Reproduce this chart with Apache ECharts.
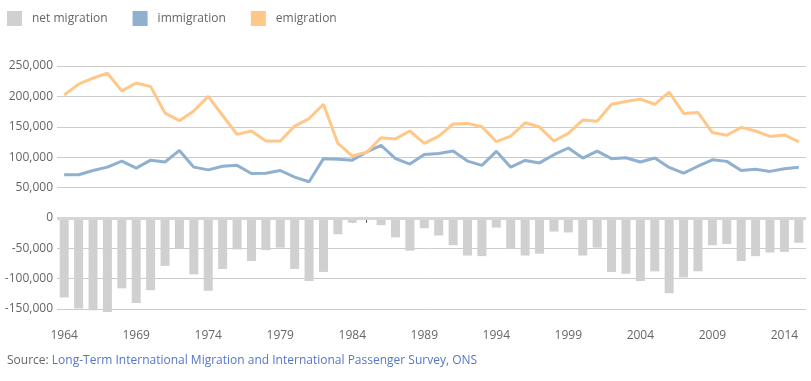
<!DOCTYPE html>
<html>
<head>
<meta charset="utf-8">
<script src="https://cdn.jsdelivr.net/npm/echarts@6/dist/echarts.min.js"></script>
<style>
    html, body { margin: 0; padding: 0; background: #fff; }
    #chart { width: 811px; height: 381px; }
</style>
</head>
<body>
<div id="chart"></div>
<script>
var years = [];
for (var y = 1964; y <= 2015; y++) {
    years.push(String(y));
}
// net migration = immigration - emigration (1985 is about zero, no bar)
var netMigration = [
    -131000, -149000, -152000, -155000, -116000, -140000, -119000, -79000, -50000, -93000,
    -120000, -84000, -52000, -71000, -53000, -49000, -84000, -104000, -89000, -27000,
    -8000, null, -12000, -32000, -54000, -17000, -29000, -45000, -62000, -63000,
    -16000, -51000, -62000, -59000, -22500, -24000, -62000, -49000, -89000, -92000,
    -104000, -88000, -124000, -98000, -88000, -45000, -43000, -71000, -63000, -57000,
    -56000, -41000
];
var immigration = [
    71000, 71000, 78000, 83500, 93500, 82000, 95000, 92000, 111000, 83500,
    79000, 85000, 86500, 73000, 73500, 78000, 67000, 59500, 97500, 96500,
    95000, 108500, 119500, 97500, 88500, 104500, 106000, 110000, 93500, 86500,
    109500, 83500, 94500, 90500, 104000, 115000, 98500, 110000, 97500, 99000,
    92000, 98500, 83000, 73500, 85000, 95500, 93000, 78000, 80000, 76500,
    81000, 83500
];
var emigration = [
    202500, 220000, 230000, 238000, 209000, 222000, 216000, 172500, 160000, 176000,
    200000, 168500, 137500, 143000, 126500, 126500, 151000, 163500, 187000, 122500,
    102000, 108000, 132000, 130000, 143000, 122500, 134500, 154500, 155500, 150000,
    125500, 134500, 156500, 149500, 126500, 139000, 161000, 159000, 187000, 191500,
    195500, 187000, 207000, 172000, 173500, 140500, 136000, 149000, 143000, 134000,
    136500, 125000
];
var yTicks = { min: -150000, max: 250000, step: 50000 };

buildChart();

function buildChart() {
    var option = {
        animation: false,
        textStyle: {
            fontFamily: 'Open Sans'
        },
        title: {
            left: 7,
            top: 355,
            padding: 0,
            text: '{a|Source: }{b|Long-Term International Migration and International Passenger Survey, ONS}',
            textStyle: {
                fontWeight: 'normal',
                rich: {
                    a: { color: '#666', fontSize: 12, fontWeight: 'normal', fontFamily: 'Open Sans' },
                    b: { color: '#5577c4', fontSize: 12, fontWeight: 'normal', fontFamily: 'Open Sans' }
                }
            }
        },
        legend: {
            left: 7,
            top: 11,
            padding: 0,
            icon: 'rect',
            itemWidth: 15,
            itemHeight: 15,
            itemGap: 25,
            textStyle: {
                color: '#666',
                fontSize: 12,
                padding: [0, 0, 0, 5]
            },
            data: ['net migration', 'immigration', 'emigration']
        },
        grid: {
            left: 57,
            right: 5,
            top: 66,
            bottom: 72
        },
        xAxis: {
            type: 'category',
            data: years,
            boundaryGap: true,
            offset: 13,
            axisLine: { show: false },
            axisTick: {
                show: true,
                interval: 0,
                alignWithLabel: true,
                length: 5,
                lineStyle: { color: '#555' }
            },
            axisLabel: {
                interval: 4,
                margin: 8,
                color: '#666',
                fontSize: 12
            },
            splitLine: { show: false }
        },
        yAxis: {
            type: 'value',
            min: yTicks.min,
            max: yTicks.max,
            interval: yTicks.step,
            axisLine: { show: false },
            axisTick: { show: false },
            axisLabel: {
                margin: 4,
                color: '#666',
                fontSize: 12,
                formatter: function (v) {
                    return v.toLocaleString('en-US');
                }
            },
            splitLine: {
                lineStyle: { color: '#cccccc', width: 1 }
            }
        },
        series: [{
            name: 'net migration',
            type: 'bar',
            data: netMigration,
            barWidth: 9,
            clip: false,
            itemStyle: {
                color: '#d0d0d0'
            },
            markLine: {
                silent: true,
                symbol: 'none',
                label: { show: false },
                lineStyle: { color: '#d6d6d6', width: 3, type: 'solid' },
                data: [{ yAxis: 0 }]
            }
        }, {
            name: 'immigration',
            type: 'line',
            data: immigration,
            showSymbol: false,
            symbol: 'none',
            z: 3,
            lineStyle: { color: '#8fb0cf', width: 3 },
            itemStyle: { color: '#8fb0cf' }
        }, {
            name: 'emigration',
            type: 'line',
            data: emigration,
            showSymbol: false,
            symbol: 'none',
            z: 4,
            lineStyle: { color: '#ffc888', width: 3 },
            itemStyle: { color: '#ffc888' }
        }]
    };
    var echart = echarts.init(document.getElementById('chart'));
    echart.setOption(option, true);
}
</script>
</body>
</html>
